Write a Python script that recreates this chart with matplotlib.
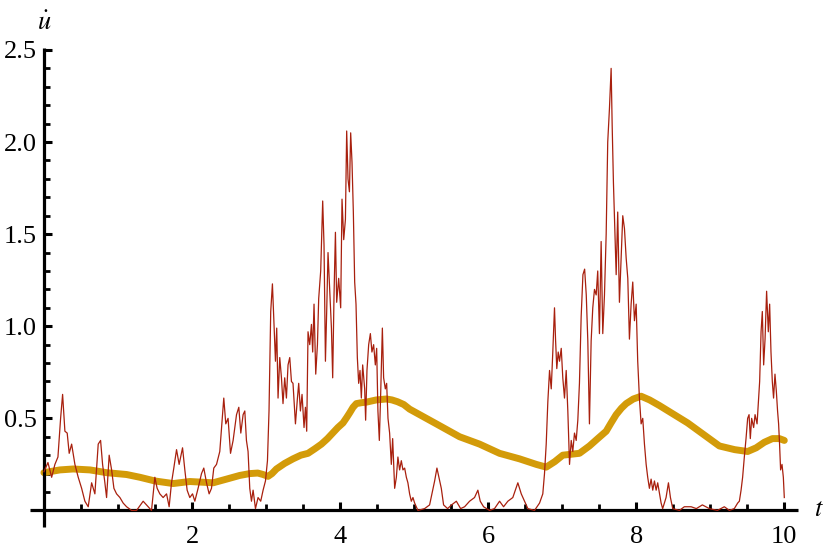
import numpy as np
import matplotlib
matplotlib.use("Agg")
import matplotlib.pyplot as plt
from matplotlib.ticker import FixedLocator

plt.rcParams['font.family'] = 'serif'
plt.rcParams['font.serif'] = ['Liberation Serif']
plt.rcParams['mathtext.fontset'] = 'stix'

# noisy signal u'(t)
t_noisy = [0.0, 0.054, 0.104, 0.148, 0.189, 0.225, 0.252, 0.283, 0.314, 0.341,
           0.374, 0.418, 0.463, 0.509, 0.553, 0.598, 0.644, 0.688, 0.733, 0.765,
           0.792, 0.823, 0.846, 0.881, 0.914, 0.945, 0.981, 1.026, 1.070, 1.116,
           1.184, 1.251, 1.340, 1.386, 1.453, 1.498, 1.529, 1.565, 1.610, 1.656,
           1.691, 1.723, 1.754, 1.791, 1.826, 1.872, 1.903, 1.934, 1.970, 2.007,
           2.038, 2.082, 2.128, 2.159, 2.196, 2.231, 2.263, 2.294, 2.331, 2.375,
           2.429, 2.456, 2.487, 2.520, 2.555, 2.601, 2.632, 2.659, 2.690, 2.713,
           2.735, 2.757, 2.780, 2.803, 2.825, 2.857, 2.892, 2.928, 2.960, 2.992,
           3.019, 3.040, 3.063, 3.086, 3.108, 3.127, 3.144, 3.162, 3.185, 3.208,
           3.229, 3.252, 3.275, 3.297, 3.320, 3.343, 3.364, 3.397, 3.424, 3.441,
           3.464, 3.486, 3.513, 3.532, 3.549, 3.567, 3.590, 3.613, 3.630, 3.648,
           3.671, 3.694, 3.711, 3.738, 3.765, 3.783, 3.802, 3.819, 3.837, 3.860,
           3.883, 3.900, 3.918, 3.937, 3.954, 3.981, 4.008, 4.026, 4.049, 4.072,
           4.089, 4.107, 4.126, 4.143, 4.161, 4.179, 4.197, 4.215, 4.233, 4.251,
           4.269, 4.287, 4.305, 4.332, 4.345, 4.363, 4.386, 4.409, 4.430, 4.453,
           4.476, 4.494, 4.511, 4.530, 4.548, 4.571, 4.588, 4.611, 4.629, 4.647,
           4.669, 4.692, 4.710, 4.737, 4.760, 4.781, 4.804, 4.827, 4.849, 4.872,
           4.895, 4.916, 4.939, 4.962, 4.984, 5.007, 5.051, 5.142, 5.209, 5.277,
           5.308, 5.335, 5.367, 5.398, 5.452, 5.506, 5.570, 5.628, 5.682, 5.749,
           5.816, 5.861, 5.893, 5.938, 6.019, 6.086, 6.154, 6.208, 6.266, 6.333,
           6.401, 6.447, 6.491, 6.536, 6.626, 6.694, 6.738, 6.761, 6.784, 6.806,
           6.829, 6.852, 6.873, 6.896, 6.910, 6.927, 6.946, 6.964, 6.987, 7.008,
           7.031, 7.054, 7.076, 7.099, 7.122, 7.143, 7.166, 7.189, 7.211, 7.233,
           7.256, 7.280, 7.303, 7.325, 7.346, 7.368, 7.391, 7.413, 7.436, 7.459,
           7.480, 7.503, 7.526, 7.548, 7.571, 7.594, 7.615, 7.638, 7.661, 7.675,
           7.692, 7.710, 7.729, 7.750, 7.773, 7.796, 7.818, 7.841, 7.864, 7.886,
           7.908, 7.931, 7.953, 7.976, 7.999, 8.020, 8.043, 8.066, 8.088, 8.111,
           8.134, 8.155, 8.178, 8.201, 8.223, 8.246, 8.269, 8.290, 8.336, 8.357,
           8.403, 8.435, 8.462, 8.493, 8.583, 8.650, 8.741, 8.812, 8.893, 8.988,
           9.096, 9.190, 9.258, 9.325, 9.370, 9.393, 9.416, 9.437, 9.460, 9.483,
           9.505, 9.524, 9.541, 9.559, 9.586, 9.605, 9.632, 9.649, 9.667, 9.686,
           9.703, 9.721, 9.740, 9.761, 9.784, 9.802, 9.820, 9.838, 9.855, 9.874,
           9.892, 9.909, 9.923, 9.936, 9.950, 9.969, 9.987, 10.0]
u_noisy = [0.21, 0.26, 0.18, 0.25, 0.29, 0.50, 0.63, 0.43, 0.42, 0.31,
           0.36, 0.25, 0.18, 0.12, 0.05, 0.02, 0.15, 0.09, 0.36, 0.38,
           0.25, 0.15, 0.07, 0.30, 0.22, 0.12, 0.09, 0.07, 0.04, 0.02,
           0.0, 0.0, 0.05, 0.03, 0.0, 0.18, 0.12, 0.09, 0.07, 0.09,
           0.02, 0.15, 0.23, 0.33, 0.25, 0.34, 0.22, 0.11, 0.07, 0.09,
           0.05, 0.12, 0.20, 0.23, 0.15, 0.09, 0.12, 0.23, 0.25, 0.32,
           0.61, 0.47, 0.50, 0.31, 0.38, 0.52, 0.56, 0.42, 0.52, 0.54,
           0.38, 0.32, 0.12, 0.05, 0.11, 0.01, 0.07, 0.05, 0.11, 0.16,
           0.27, 0.54, 1.08, 1.23, 1.01, 0.81, 0.99, 0.61, 0.83, 0.72,
           0.58, 0.72, 0.61, 0.79, 0.83, 0.70, 0.69, 0.47, 0.61, 0.69,
           0.54, 0.63, 0.45, 0.56, 0.43, 0.97, 0.90, 1.01, 0.86, 1.12,
           0.74, 0.90, 1.15, 1.30, 1.68, 1.44, 0.81, 1.08, 1.40, 1.19,
           0.99, 0.72, 1.17, 1.51, 1.13, 1.26, 1.10, 1.69, 1.47, 1.58,
           2.06, 1.80, 1.73, 2.05, 1.89, 1.62, 1.24, 1.12, 0.83, 0.69,
           0.76, 0.61, 0.79, 0.66, 0.49, 0.76, 0.90, 0.96, 0.86, 0.90,
           0.79, 0.88, 0.54, 0.38, 0.63, 0.99, 0.72, 0.66, 0.69, 0.50,
           0.42, 0.25, 0.39, 0.12, 0.18, 0.29, 0.22, 0.27, 0.22, 0.23,
           0.18, 0.15, 0.09, 0.05, 0.07, 0.04, 0.0, 0.01, 0.03, 0.16,
           0.23, 0.18, 0.12, 0.03, 0.01, 0.03, 0.05, 0.01, 0.02, 0.05,
           0.07, 0.11, 0.05, 0.02, 0.0, 0.01, 0.05, 0.02, 0.05, 0.07,
           0.15, 0.09, 0.05, 0.01, 0.0, 0.04, 0.09, 0.20, 0.36, 0.59,
           0.76, 0.66, 0.86, 1.10, 0.93, 0.77, 0.86, 0.81, 0.88, 0.72,
           0.61, 0.76, 0.54, 0.25, 0.38, 0.32, 0.42, 0.38, 0.49, 0.69,
           1.05, 1.28, 1.31, 1.17, 0.92, 0.47, 0.92, 1.10, 1.20, 1.17,
           1.30, 0.96, 1.46, 0.96, 1.17, 1.50, 2.00, 2.18, 2.40, 2.09,
           1.78, 1.53, 1.28, 1.62, 1.13, 1.37, 1.60, 1.53, 1.37, 1.26,
           0.93, 1.12, 1.24, 1.03, 1.12, 0.81, 0.61, 0.47, 0.50, 0.36,
           0.25, 0.18, 0.12, 0.17, 0.11, 0.16, 0.11, 0.15, 0.04, 0.01,
           0.07, 0.15, 0.07, 0.01, 0.0, 0.02, 0.02, 0.01, 0.03, 0.01,
           0.0, 0.02, 0.0, 0.01, 0.04, 0.05, 0.11, 0.18, 0.29, 0.39,
           0.50, 0.52, 0.39, 0.50, 0.45, 0.52, 0.47, 0.58, 0.70, 0.97,
           1.08, 0.79, 0.93, 1.19, 0.97, 1.12, 0.86, 0.70, 0.61, 0.74,
           0.65, 0.54, 0.47, 0.36, 0.22, 0.25, 0.18, 0.07]

# smooth curve
t_smooth = [0.0, 0.216, 0.395, 0.621, 0.846, 1.116, 1.296, 1.498, 1.745, 1.970,
            2.285, 2.466, 2.645, 2.780, 2.888, 2.960, 3.027, 3.080, 3.140, 3.250,
            3.364, 3.470, 3.567, 3.660, 3.748, 3.830, 3.900, 3.970, 4.039, 4.090,
            4.130, 4.175, 4.220, 4.290, 4.355, 4.490, 4.625, 4.700, 4.777, 4.860,
            4.939, 5.300, 5.614, 5.884, 6.154, 6.424, 6.650, 6.784, 6.900, 7.008,
            7.120, 7.233, 7.368, 7.480, 7.594, 7.660, 7.729, 7.800, 7.864, 7.960,
            8.066, 8.180, 8.311, 8.695, 9.123, 9.330, 9.505, 9.620, 9.730, 9.840,
            9.933, 10.0]
u_smooth = [0.205, 0.22, 0.225, 0.22, 0.205, 0.195, 0.18, 0.16, 0.146, 0.157,
            0.15, 0.17, 0.19, 0.20, 0.203, 0.195, 0.185, 0.20, 0.225, 0.255,
            0.28, 0.30, 0.31, 0.335, 0.36, 0.39, 0.42, 0.45, 0.475, 0.505,
            0.53, 0.56, 0.58, 0.585, 0.588, 0.60, 0.605, 0.60, 0.59, 0.575,
            0.55, 0.47, 0.40, 0.36, 0.31, 0.28, 0.25, 0.235, 0.265, 0.30,
            0.305, 0.31, 0.35, 0.39, 0.43, 0.475, 0.52, 0.555, 0.58, 0.605,
            0.62, 0.60, 0.57, 0.475, 0.35, 0.33, 0.32, 0.34, 0.37, 0.39,
            0.39, 0.38]

fig = plt.figure(figsize=(8.3, 5.53), dpi=100)
ax = fig.add_axes([0.036, 0.047, 0.925, 0.866])

ax.plot(t_smooth, u_smooth, color='#D39B09', lw=5, solid_capstyle='round',
        solid_joinstyle='round', zorder=2)
ax.plot(t_noisy, u_noisy, color='#A8200E', lw=0.9, zorder=3)

ax.set_xlim(-0.19, 10.18)
ax.set_ylim(-0.09, 2.51)

for s in ['top', 'right']:
    ax.spines[s].set_visible(False)
for s in ['left', 'bottom']:
    ax.spines[s].set_position(('data', 0))
    ax.spines[s].set_linewidth(2.3)
    ax.spines[s].set_capstyle('butt')

ax.xaxis.set_major_locator(FixedLocator([2, 4, 6, 8, 10]))
ax.xaxis.set_minor_locator(FixedLocator([0.5, 1, 1.5, 2.5, 3, 3.5, 4.5, 5, 5.5, 6.5,
                                         7, 7.5, 8.5, 9, 9.5]))
ax.yaxis.set_major_locator(FixedLocator([0.5, 1.0, 1.5, 2.0, 2.5]))
ax.yaxis.set_minor_locator(FixedLocator([v / 10 for v in range(1, 25) if v % 5]))
ax.set_yticklabels(['0.5', '1.0', '1.5', '2.0', '2.5'])
ax.tick_params(which='major', direction='in', length=6, width=2.2, labelsize=19)
ax.tick_params(which='minor', direction='in', length=4, width=2.0)
ax.tick_params(axis='x', which='major', pad=11)
ax.tick_params(axis='y', which='major', pad=5)

ax.text(10.47, 0.0, r'$t$', fontsize=19, ha='center', va='center', clip_on=False)
ax.text(0.0, 2.58, r'$\dot{u}$', fontsize=19, ha='center', va='bottom', clip_on=False)

fig.savefig('out.png', dpi=100)
